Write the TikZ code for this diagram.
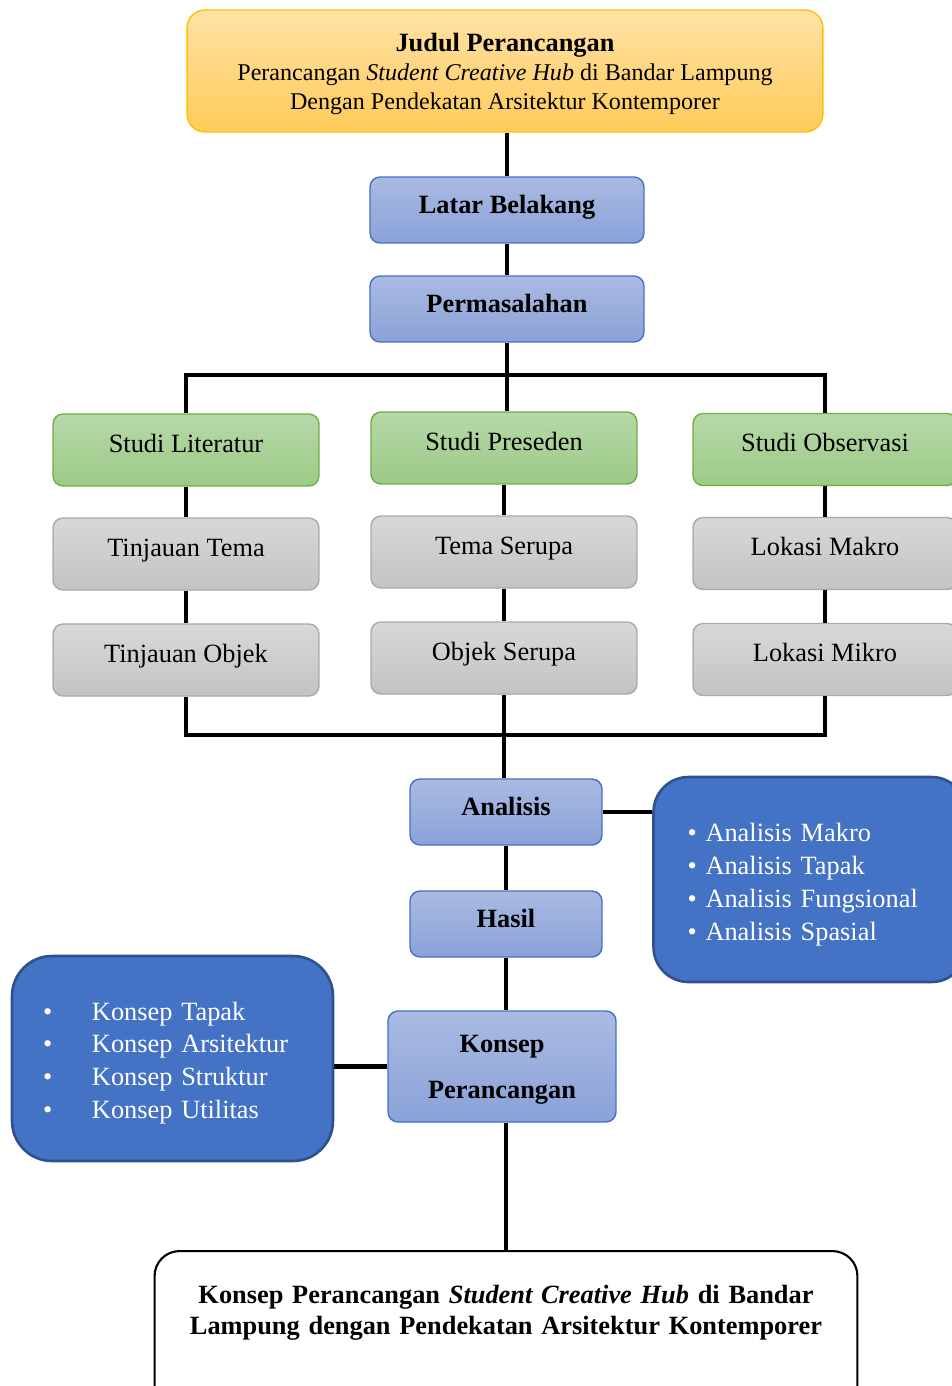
\documentclass[tikz,border=0pt]{standalone}
\usepackage{fontspec}
\setmainfont{Liberation Serif}
\definecolor{yellowtop}{HTML}{FFE2A6}
\definecolor{yellowbot}{HTML}{FFCB5A}
\definecolor{yellowline}{HTML}{FFC000}
\definecolor{bluetop}{HTML}{AABAE2}
\definecolor{bluebot}{HTML}{8AA2D8}
\definecolor{blueline}{HTML}{4472C4}
\definecolor{greentop}{HTML}{B7D8A9}
\definecolor{greenbot}{HTML}{9CCA86}
\definecolor{greenline}{HTML}{70AD47}
\definecolor{graytop}{HTML}{D8D8D8}
\definecolor{graybot}{HTML}{C3C3C3}
\definecolor{grayline}{HTML}{A9A9A9}
\definecolor{listfill}{HTML}{4472C4}
\definecolor{listline}{HTML}{2F528F}
\begin{document}
\begin{tikzpicture}[x=0.02cm, y=-0.02cm,
  font=\fontsize{15}{18}\selectfont,
  kotak/.style={draw, rounded corners=0.2cm, line width=0.8pt, align=center, inner sep=0pt},
  biru/.style={kotak, draw=blueline, top color=bluetop, bottom color=bluebot,
    font=\fontsize{15}{18}\selectfont\bfseries},
  birusatu/.style={biru, text height=0.7em, text depth=0.3em},
  hijau/.style={kotak, draw=greenline, top color=greentop, bottom color=greenbot,
    minimum width=5.32cm, minimum height=1.44cm, text height=0.7em, text depth=0.45em},
  abu/.style={kotak, draw=grayline, top color=graytop, bottom color=graybot,
    minimum width=5.32cm, minimum height=1.44cm, text height=0.7em, text depth=0.45em},
  daftar/.style={draw=listline, fill=listfill, line width=1.5pt, text=white, align=left,
    font=\fontsize{15}{18.7}\selectfont},
  garis/.style={line width=2.5pt}]
  \useasboundingbox (0,0) rectangle (951,1386);

  % judul dan latar belakang
  \node[kotak, draw=yellowline, top color=yellowtop, bottom color=yellowbot, rounded corners=0.36cm,
    minimum width=12.72cm, minimum height=2.44cm, font=\fontsize{13.7}{16.5}\selectfont] (judul) at (505,71)
    {\rule{0pt}{13.6pt}{\fontsize{15}{16.5}\selectfont\bfseries Judul Perancangan}\\Perancangan \textit{Student Creative Hub} di Bandar Lampung\\Dengan Pendekatan Arsitektur Kontemporer};
  \node[birusatu, minimum width=5.48cm, minimum height=1.32cm] (latar) at (507,210) {Latar Belakang};
  \node[birusatu, minimum width=5.48cm, minimum height=1.32cm] (masalah) at (507,309) {Permasalahan};

  % tiga kolom studi
  \node[hijau] (lit) at (186,450) {Studi Literatur};
  \node[hijau] (pres) at (504,448) {Studi Preseden};
  \node[hijau, minimum width=5.28cm] (obs) at (825,449.5) {Studi Observasi};
  \node[abu] (tema) at (186,554) {Tinjauan Tema};
  \node[abu] (serupa) at (504,552) {Tema Serupa};
  \node[abu, minimum width=5.28cm] (makro) at (825,553.5) {Lokasi Makro};
  \node[abu] (objek) at (186,660) {Tinjauan Objek};
  \node[abu] (objser) at (504,658) {Objek Serupa};
  \node[abu, minimum width=5.28cm] (mikro) at (825,659.5) {Lokasi Mikro};

  % analisis sampai konsep
  \node[birusatu, minimum width=3.84cm, minimum height=1.32cm] (analisis) at (506,812) {Analisis};
  \node[birusatu, minimum width=3.84cm, minimum height=1.32cm] (hasil) at (506,924) {Hasil};
  \node[biru, minimum width=4.56cm, minimum height=2.22cm] (konsep) at (502,1066.5) {\rule{0pt}{13.6pt}Konsep\\[8pt]Perancangan};
  \node[daftar, rounded corners=0.7cm, minimum height=4.1cm, text width=4.9cm, inner xsep=0.68cm] (listA) at (810,879.5)
    {\rule{0pt}{16pt}\textbullet\ Analisis Makro\\\textbullet\ Analisis Tapak\\\textbullet\ Analisis Fungsional\\\textbullet\ Analisis Spasial};
  \node[daftar, rounded corners=0.8cm, minimum height=4.1cm, text width=5.18cm, inner xsep=0.62cm] (listK) at (172.5,1058.5)
    {\rule{0pt}{15.5pt}\makebox[0.98cm][l]{\textbullet}Konsep Tapak\\\makebox[0.98cm][l]{\textbullet}Konsep Arsitektur\\
     \makebox[0.98cm][l]{\textbullet}Konsep Struktur\\\makebox[0.98cm][l]{\textbullet}Konsep Utilitas};
  \node[draw, line width=1.2pt, rounded corners=0.5cm, fill=white, align=center, anchor=north,
    text width=13.2cm, inner xsep=0.43cm, inner ysep=0.68cm, text depth=2.2cm,
    font=\fontsize{15}{18}\selectfont\bfseries] (akhir) at (506,1250)
    {Konsep Perancangan \textit{Student Creative Hub} di Bandar\\Lampung dengan Pendekatan Arsitektur Kontemporer};

  \coordinate (atas) at (506,375);
  \coordinate (bawah) at (506,735);

  \draw[garis] (judul.south -| latar.north) -- (latar.north);
  \draw[garis] (latar.south) -- (masalah.north);
  \draw[garis] (masalah.south) -- (masalah.south |- pres.north);
  \draw[garis] (lit.north) |- (atas) -| (obs.north);
  \draw[garis] (lit.south) -- (tema.north);
  \draw[garis] (tema.south) -- (objek.north);
  \draw[garis] (pres.south) -- (serupa.north);
  \draw[garis] (serupa.south) -- (objser.north);
  \draw[garis] (obs.south) -- (makro.north);
  \draw[garis] (makro.south) -- (mikro.north);
  \draw[garis] (objek.south) |- (bawah) -| (mikro.south);
  \draw[garis] (objser.south) -- (objser.south |- analisis.north);
  \draw[garis] (analisis.south) -- (hasil.north);
  \draw[garis] (hasil.south) -- (hasil.south |- konsep.north);
  \draw[garis] (konsep.south -| akhir.north) -- (akhir.north);
  \draw[garis] (analisis.east) -- (analisis.east -| listA.west);
  \draw[garis] (konsep.west) -- (konsep.west -| listK.east);
\end{tikzpicture}
\end{document}
